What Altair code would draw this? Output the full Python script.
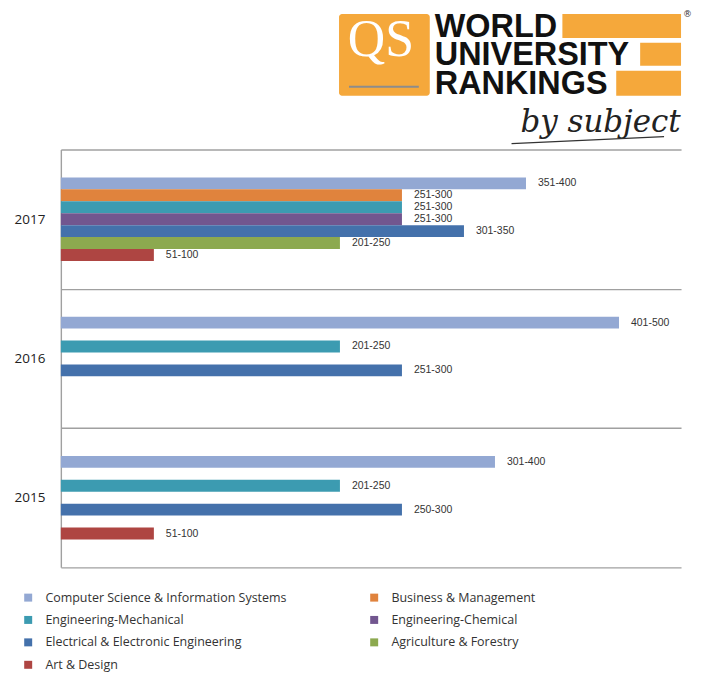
import altair as alt
import pandas as pd

# ---- data ----
subjects = [
    "Computer Science & Information Systems",
    "Business & Management",
    "Engineering-Mechanical",
    "Engineering-Chemical",
    "Electrical & Electronic Engineering",
    "Agriculture & Forestry",
    "Art & Design",
]
subject_colors = ["#93A8D3", "#E0833D", "#3C9BB1", "#72568F", "#4471AB", "#8CA94F", "#AE4542"]
# order in which the legend lists the subjects (filled column by column)
legend_order = [
    "Computer Science & Information Systems",
    "Engineering-Mechanical",
    "Electrical & Electronic Engineering",
    "Art & Design",
    "Business & Management",
    "Engineering-Chemical",
    "Agriculture & Forestry",
]
year_order = ["2017", "2016", "2015"]

bar_years = ["2017"] * 7 + ["2016"] * 3 + ["2015"] * 4
bar_subjects = [
    "Computer Science & Information Systems",
    "Business & Management",
    "Engineering-Mechanical",
    "Engineering-Chemical",
    "Electrical & Electronic Engineering",
    "Agriculture & Forestry",
    "Art & Design",
    "Computer Science & Information Systems",
    "Engineering-Mechanical",
    "Electrical & Electronic Engineering",
    "Computer Science & Information Systems",
    "Engineering-Mechanical",
    "Electrical & Electronic Engineering",
    "Art & Design",
]
bar_values = [375, 275, 275, 275, 325, 225, 75, 450, 225, 275, 350, 225, 275, 75]
bar_labels = ["351-400", "251-300", "251-300", "251-300", "301-350", "201-250", "51-100",
              "401-500", "201-250", "251-300",
              "301-400", "201-250", "250-300", "51-100"]

df = pd.DataFrame({"year": bar_years, "subject": bar_subjects,
                   "value": bar_values, "label": bar_labels})

color_of = dict(zip(subjects, subject_colors))
legend_colors = [color_of[s] for s in legend_order]

LINE = "#A0A0A0"
ORANGE = "#F5A83B"

# empty gap slots above and below each year's group of bars
offset_domain = ["_gap1", "_gap2"] + subjects + ["_gap3", "_gap4"]

base = alt.Chart(df).encode(
    y=alt.Y("year:N", sort=year_order,
            scale=alt.Scale(paddingInner=0, paddingOuter=0),
            axis=alt.Axis(title=None, ticks=False, domain=True, domainColor=LINE, domainWidth=1.4,
                          grid=True, tickBand="extent", gridColor=LINE, gridWidth=1.4,
                          labelFontSize=13.5, labelFont="Open Sans", labelColor="#222",
                          labelPadding=16)),
    yOffset=alt.YOffset("subject:N",
                        scale=alt.Scale(domain=offset_domain, paddingInner=0, paddingOuter=0.33)),
)

bars = base.mark_bar().encode(
    x=alt.X("value:Q", scale=alt.Scale(domain=[0, 500], nice=False, zero=True), axis=None),
    color=alt.Color("subject:N",
                    scale=alt.Scale(domain=legend_order, range=legend_colors),
                    legend=alt.Legend(orient="none", legendX=-39, legendY=443, columns=2,
                                      symbolType="square", symbolSize=64, symbolStrokeWidth=0,
                                      labelFontSize=12.5, labelFont="Open Sans", labelColor="#333",
                                      rowPadding=9.5, columnPadding=81, labelOffset=11,
                                      title=None, padding=0, labelLimit=400)),
)

labels = base.mark_text(align="left", baseline="middle", dx=12, fontSize=10.5,
                        font="Liberation Sans", color="#333").encode(
    x=alt.X("value:Q"), text="label:N")

# ---- logo (decoration) ----
one = pd.DataFrame({"k": [0]})
logo = []
logo.append(alt.Chart(one).mark_rect(color=ORANGE, cornerRadius=3).encode(
    x=alt.value(279), x2=alt.value(370), y=alt.value(-136), y2=alt.value(-54)))
logo.append(alt.Chart(one).mark_rect(color=ORANGE).encode(
    x=alt.value(503), x2=alt.value(622), y=alt.value(-136), y2=alt.value(-112)))
logo.append(alt.Chart(one).mark_rect(color=ORANGE).encode(
    x=alt.value(581), x2=alt.value(622), y=alt.value(-107), y2=alt.value(-84)))
logo.append(alt.Chart(one).mark_rect(color=ORANGE).encode(
    x=alt.value(557), x2=alt.value(622), y=alt.value(-79), y2=alt.value(-54)))
logo.append(alt.Chart(one).mark_text(text="QS", font="Liberation Serif", fontSize=52,
                                     color="white", align="center", baseline="alphabetic").encode(
    x=alt.value(321), y=alt.value(-94)))
logo.append(alt.Chart(one).mark_rule(color="#8C8C8C", strokeWidth=2).encode(
    x=alt.value(289), x2=alt.value(359), y=alt.value(-63)))
for word, yy in [("WORLD", -113), ("UNIVERSITY", -85), ("RANKINGS", -56)]:
    logo.append(alt.Chart(one).mark_text(text=word, font="Liberation Sans", fontWeight="bold",
                                         fontSize=32.5, color="#111", align="left",
                                         baseline="alphabetic").encode(
        x=alt.value(375), y=alt.value(yy)))
logo.append(alt.Chart(one).mark_text(text="by subject", font="DejaVu Serif", fontStyle="italic",
                                     fontSize=31, color="#222", align="left",
                                     baseline="alphabetic").encode(
    x=alt.value(461), y=alt.value(-18)))
logo.append(alt.Chart(one).mark_rule(color="#333", strokeWidth=1.3).encode(
    x=alt.value(452), x2=alt.value(605), y=alt.value(-6), y2=alt.value(-13)))
logo.append(alt.Chart(one).mark_text(text="®", font="DejaVu Sans", fontSize=9, color="#333",
                                     align="left", baseline="middle").encode(
    x=alt.value(624), y=alt.value(-136)))

chart = alt.layer(bars, labels, *logo).properties(
    width=622, height=419,
    padding={"left": 53, "top": 141, "right": 12, "bottom": 104},
    autosize=alt.AutoSizeParams(type="none"),
).configure_view(stroke=None)

chart.save("out.html", embed_options={"renderer": "svg", "actions": False})
